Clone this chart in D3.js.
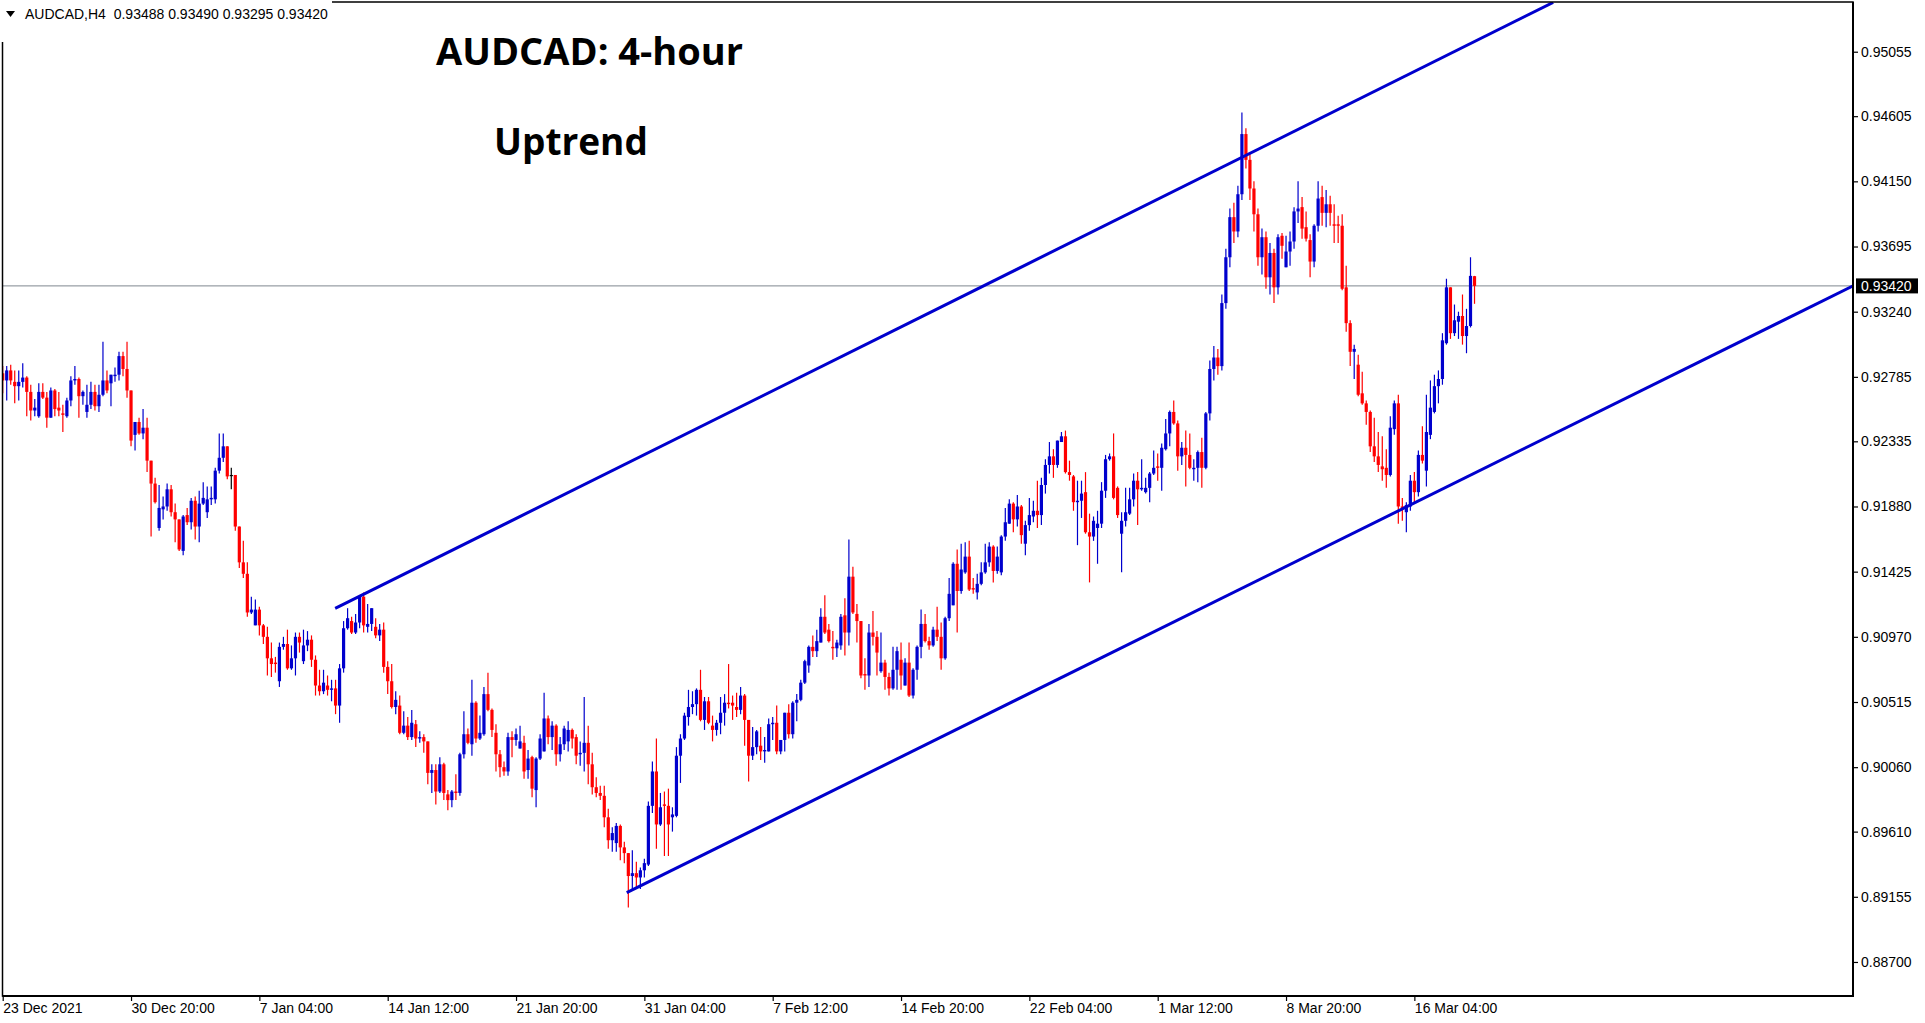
<!DOCTYPE html>
<html>
<head>
<meta charset="utf-8">
<script src="https://cdn.jsdelivr.net/npm/d3@7"></script>
<style>
    html, body { margin: 0; padding: 0; background: #ffffff; }
    svg { display: block; }
</style>
</head>
<body>
<div id="chart"></div>
<script>

// Constants - canvas and plot frame
const width = 1925
const height = 1023
const frame = { left: 2.5, top: 2, right: 1853, bottom: 996 }

// Data - AUDCAD H4 candles (open, high, low, close)
const opens = [
    .9281,.9276,.9283,.9275,.9272,.9275,.9278,.9268,.9255,.9251,
    .9268,.9264,.9250,.9269,.9257,.9253,.9251,.9262,.9276,.9277,
    .9265,.9254,.9259,.9268,.9258,.9266,.9276,.9274,.9279,.9280,
    .9293,.9284,.9269,.9238,.9247,.9239,.9243,.9220,.9204,.9173,
    .9186,.9188,.9200,.9184,.9179,.9157,.9182,.9177,.9192,.9174,
    .9190,.9184,.9193,.9193,.9213,.9222,.9230,.9210,.9210,.9174,
    .9149,.9141,.9114,.9105,.9116,.9105,.9097,.9082,.9079,.9066,
    .9090,.9092,.9075,.9082,.9097,.9080,.9091,.9095,.9081,.9063,
    .9059,.9063,.9060,.9061,.9049,.9075,.9103,.9108,.9100,.9107,
    .9125,.9104,.9106,.9104,.9098,.9102,.9076,.9066,.9048,.9049,
    .9030,.9035,.9027,.9036,.9026,.9027,.9024,.9002,.9004,.8989,
    .9008,.8987,.8983,.8989,.8988,.9015,.9029,.9022,.9051,.9026,
    .9029,.9057,.9046,.9030,.9015,.9006,.9003,.9027,.9025,.9019,
    .9023,.9004,.9013,.8990,.9012,.9017,.9040,.9027,.9035,.9015,
    .9022,.9024,.9032,.9027,.9015,.9016,.9023,.9008,.8992,.8988,
    .8986,.8971,.8955,.8953,.8965,.8950,.8946,.8930,.8932,.8929,
    .8934,.8938,.8979,.9003,.8966,.8980,.8979,.8971,.8972,.9014,
    .9026,.9041,.9048,.9050,.9060,.9039,.9052,.9035,.9032,.9037,
    .9044,.9051,.9051,.9048,.9046,.9056,.9039,.9014,.9020,.9021,
    .9017,.9017,.9036,.9037,.9017,.9025,.9044,.9029,.9051,.9053,
    .9065,.9077,.9090,.9087,.9093,.9111,.9102,.9090,.9089,.9091,
    .9112,.9100,.9139,.9113,.9108,.9071,.9070,.9100,.9097,.9073,
    .9079,.9069,.9061,.9074,.9081,.9063,.9079,.9056,.9074,.9090,
    .9106,.9094,.9091,.9102,.9097,.9082,.9110,.9119,.9148,.9129,
    .9142,.9153,.9131,.9128,.9134,.9142,.9149,.9160,.9143,.9142,
    .9167,.9176,.9190,.9179,.9188,.9162,.9175,.9181,.9185,.9182,
    .9203,.9217,.9223,.9217,.9233,.9237,.9212,.9209,.9191,.9192,
    .9198,.9170,.9167,.9173,.9176,.9199,.9221,.9223,.9201,.9169,
    .9178,.9183,.9193,.9206,.9200,.9198,.9201,.9211,.9216,.9215,
    .9228,.9239,.9254,.9246,.9223,.9229,.9224,.9214,.9215,.9226,
    .9215,.9253,.9284,.9292,.9286,.9330,.9362,.9390,.9380,.9406,
    .9448,.9430,.9410,.9392,.9362,.9376,.9348,.9365,.9341,.9377,
    .9355,.9366,.9373,.9394,.9397,.9383,.9374,.9359,.9384,.9404,
    .9393,.9399,.9385,.9385,.9384,.9341,.9316,.9296,.9287,.9267,
    .9260,.9254,.9230,.9223,.9216,.9215,.9210,.9242,.9260,.9188,
    .9184,.9188,.9206,.9198,.9224,.9213,.9238,.9254,.9272,.9277,
    .9302,.9341,.9309,.9317,.9321,.9307,.9314,.93488
]
const highs = [
    .9286,.9286,.9287,.9283,.9283,.9288,.9279,.9273,.9263,.9274,
    .9274,.9268,.9271,.9270,.9268,.9259,.9264,.9279,.9286,.9278,
    .9269,.9273,.9275,.9273,.9273,.9303,.9283,.9280,.9285,.9296,
    .9296,.9303,.9269,.9247,.9250,.9256,.9250,.9220,.9208,.9203,
    .9195,.9204,.9203,.9190,.9179,.9182,.9187,.9194,.9195,.9199,
    .9205,.9202,.9202,.9215,.9239,.9239,.9230,.9215,.9210,.9174,
    .9164,.9149,.9125,.9123,.9118,.9106,.9104,.9093,.9083,.9093,
    .9097,.9102,.9091,.9100,.9100,.9102,.9101,.9098,.9084,.9074,
    .9074,.9070,.9067,.9067,.9078,.9108,.9117,.9111,.9113,.9126,
    .9128,.9120,.9117,.9110,.9106,.9107,.9080,.9078,.9059,.9056,
    .9045,.9041,.9046,.9039,.9031,.9029,.9024,.9008,.9008,.9013,
    .9009,.8990,.8990,.9001,.9016,.9045,.9033,.9067,.9052,.9042,
    .9062,.9072,.9047,.9036,.9018,.9010,.9030,.9031,.9033,.9035,
    .9028,.9018,.9014,.9013,.9029,.9058,.9042,.9038,.9036,.9027,
    .9035,.9038,.9033,.9029,.9024,.9055,.9035,.9016,.8999,.8993,
    .8993,.8977,.8964,.8967,.8966,.8954,.8946,.8948,.8940,.8936,
    .8942,.8982,.9010,.9026,.8988,.8989,.8991,.8978,.9020,.9029,
    .9044,.9060,.9059,.9061,.9074,.9055,.9055,.9042,.9039,.9055,
    .9057,.9078,.9056,.9058,.9062,.9057,.9039,.9034,.9032,.9034,
    .9027,.9040,.9041,.9049,.9025,.9044,.9050,.9052,.9057,.9067,
    .9081,.9091,.9098,.9102,.9117,.9126,.9106,.9101,.9095,.9113,
    .9124,.9165,.9146,.9120,.9108,.9082,.9106,.9115,.9101,.9100,
    .9081,.9072,.9090,.9090,.9093,.9082,.9093,.9075,.9091,.9116,
    .9113,.9097,.9104,.9118,.9107,.9111,.9138,.9149,.9158,.9162,
    .9163,.9164,.9138,.9141,.9149,.9162,.9163,.9161,.9160,.9168,
    .9187,.9193,.9191,.9196,.9189,.9178,.9194,.9192,.9206,.9208,
    .9221,.9233,.9228,.9234,.9240,.9241,.9220,.9210,.9206,.9206,
    .9212,.9183,.9181,.9185,.9205,.9224,.9225,.9239,.9202,.9184,
    .9201,.9201,.9211,.9212,.9221,.9208,.9212,.9227,.9225,.9232,
    .9249,.9255,.9262,.9248,.9233,.9241,.9239,.9221,.9227,.9236,
    .9254,.9290,.9300,.9298,.9336,.9368,.9396,.9400,.9412,.9463,
    .9452,.9434,.9415,.9396,.9382,.9380,.9372,.9368,.9378,.9379,
    .9377,.9380,.9397,.9415,.9404,.9394,.9378,.9385,.9415,.9412,
    .9409,.9405,.9399,.9391,.9392,.9356,.9318,.9301,.9294,.9282,
    .9262,.9255,.9250,.9240,.9237,.9228,.9251,.9262,.9266,.9194,
    .9191,.9210,.9212,.9227,.9244,.9266,.9276,.9280,.9283,.9309,
    .9347,.9341,.9329,.9324,.9336,.9326,.9362,.93490
]
const lows = [
    .9267,.9262,.9273,.9260,.9262,.9271,.9251,.9248,.9251,.9250,
    .9263,.9243,.9250,.9251,.9251,.9240,.9250,.9258,.9273,.9250,
    .9259,.9250,.9256,.9255,.9254,.9265,.9267,.9258,.9275,.9276,
    .9279,.9264,.9230,.9227,.9238,.9235,.9212,.9167,.9190,.9171,
    .9179,.9185,.9181,.9163,.9157,.9154,.9175,.9172,.9165,.9163,
    .9189,.9180,.9189,.9190,.9211,.9219,.9207,.9200,.9171,.9145,
    .9138,.9111,.9113,.9105,.9098,.9092,.9070,.9069,.9072,.9062,
    .9088,.9074,.9074,.9070,.9086,.9078,.9087,.9076,.9056,.9056,
    .9057,.9056,.9052,.9043,.9037,.9072,.9102,.9099,.9099,.9103,
    .9100,.9100,.9101,.9096,.9094,.9072,.9057,.9047,.9043,.9029,
    .9029,.9025,.9025,.9020,.9023,.9016,.8994,.8988,.8980,.8988,
    .8983,.8976,.8978,.8983,.8986,.9012,.9022,.9014,.9023,.9025,
    .9028,.9045,.9027,.9003,.8999,.9000,.9000,.9013,.9021,.9019,
    .8998,.8998,.8985,.8978,.9011,.9017,.9022,.9018,.9007,.9010,
    .9018,.9017,.9019,.9008,.9007,.9003,.8994,.8987,.8985,.8983,
    .8964,.8949,.8947,.8947,.8941,.8939,.8908,.8921,.8922,.8921,
    .8929,.8937,.8974,.8949,.8965,.8944,.8944,.8961,.8971,.8995,
    .9025,.9035,.9043,.9042,.9038,.9032,.9036,.9024,.9028,.9029,
    .9035,.9047,.9039,.9041,.9043,.9021,.8996,.9011,.9015,.9011,
    .9009,.9017,.9025,.9015,.9015,.9017,.9026,.9026,.9038,.9052,
    .9064,.9072,.9083,.9083,.9093,.9099,.9093,.9081,.9083,.9088,
    .9084,.9091,.9113,.9093,.9068,.9060,.9062,.9091,.9070,.9072,
    .9060,.9056,.9060,.9060,.9060,.9063,.9055,.9054,.9067,.9082,
    .9093,.9088,.9090,.9094,.9074,.9081,.9108,.9119,.9100,.9127,
    .9141,.9129,.9127,.9123,.9133,.9141,.9146,.9135,.9141,.9140,
    .9164,.9176,.9170,.9174,.9162,.9154,.9171,.9177,.9173,.9175,
    .9197,.9211,.9208,.9215,.9233,.9211,.9206,.9185,.9161,.9180,
    .9169,.9135,.9164,.9148,.9173,.9194,.9220,.9193,.9180,.9142,
    .9174,.9182,.9188,.9175,.9199,.9197,.9191,.9210,.9206,.9199,
    .9227,.9230,.9245,.9213,.9217,.9202,.9214,.9206,.9205,.9201,
    .9214,.9248,.9276,.9280,.9283,.9326,.9355,.9372,.9376,.9402,
    .9424,.9402,.9380,.9356,.9350,.9340,.9336,.9330,.9336,.9361,
    .9355,.9356,.9368,.9386,.9375,.9373,.9348,.9355,.9380,.9384,
    .9383,.9384,.9372,.9372,.9339,.9310,.9286,.9277,.9265,.9259,
    .9245,.9226,.9219,.9212,.9206,.9201,.9209,.9238,.9176,.9178,
    .9170,.9185,.9191,.9195,.9218,.9202,.9235,.9253,.9260,.9273,
    .9301,.9305,.9307,.9305,.9301,.9295,.9313,.93295
]
const closes = [
    .9276,.9283,.9276,.9272,.9275,.9278,.9268,.9255,.9257,.9268,
    .9264,.9250,.9269,.9256,.9255,.9252,.9262,.9276,.9277,.9265,
    .9268,.9259,.9268,.9258,.9266,.9276,.9269,.9280,.9280,.9293,
    .9284,.9269,.9234,.9247,.9239,.9243,.9220,.9204,.9191,.9187,
    .9188,.9200,.9184,.9179,.9158,.9181,.9177,.9192,.9174,.9190,
    .9194,.9193,.9194,.9213,.9222,.9230,.9209,.9210,.9174,.9149,
    .9141,.9114,.9116,.9116,.9105,.9097,.9082,.9078,.9078,.9090,
    .9092,.9075,.9082,.9097,.9093,.9091,.9095,.9081,.9063,.9059,
    .9065,.9060,.9061,.9049,.9075,.9103,.9110,.9100,.9107,.9125,
    .9105,.9106,.9117,.9098,.9102,.9076,.9066,.9048,.9053,.9030,
    .9035,.9027,.9037,.9026,.9027,.9024,.9002,.9004,.8989,.9008,
    .8988,.8983,.8989,.8988,.9015,.9029,.9023,.9051,.9026,.9030,
    .9057,.9046,.9032,.9015,.9006,.9003,.9027,.9025,.9029,.9024,
    .9003,.9012,.8991,.9012,.9026,.9040,.9027,.9035,.9015,.9022,
    .9033,.9032,.9026,.9014,.9016,.9023,.9008,.8992,.8988,.8986,
    .8971,.8955,.8960,.8965,.8950,.8946,.8930,.8932,.8929,.8934,
    .8939,.8979,.9003,.8966,.8978,.8979,.8966,.8973,.9014,.9026,
    .9042,.9048,.9050,.9060,.9039,.9052,.9037,.9032,.9037,.9044,
    .9051,.9050,.9049,.9046,.9056,.9039,.9014,.9020,.9031,.9017,
    .9018,.9036,.9037,.9017,.9025,.9044,.9029,.9051,.9053,.9065,
    .9080,.9090,.9087,.9094,.9111,.9100,.9094,.9089,.9093,.9111,
    .9100,.9139,.9114,.9108,.9070,.9070,.9100,.9097,.9086,.9079,
    .9069,.9061,.9074,.9087,.9070,.9079,.9056,.9074,.9090,.9106,
    .9094,.9091,.9102,.9097,.9082,.9110,.9127,.9148,.9129,.9144,
    .9153,.9130,.9130,.9134,.9142,.9149,.9160,.9143,.9153,.9167,
    .9177,.9190,.9179,.9188,.9168,.9175,.9182,.9185,.9182,.9203,
    .9217,.9223,.9217,.9234,.9237,.9212,.9210,.9191,.9192,.9197,
    .9170,.9167,.9178,.9176,.9199,.9221,.9223,.9194,.9182,.9178,
    .9184,.9193,.9206,.9200,.9201,.9201,.9211,.9215,.9215,.9229,
    .9239,.9254,.9246,.9223,.9229,.9224,.9215,.9215,.9226,.9215,
    .9253,.9284,.9292,.9286,.9330,.9362,.9390,.9380,.9406,.9448,
    .9430,.9410,.9392,.9362,.9376,.9348,.9365,.9341,.9376,.9370,
    .9366,.9373,.9394,.9396,.9382,.9375,.9359,.9384,.9403,.9393,
    .9399,.9393,.9384,.9384,.9340,.9316,.9296,.9298,.9266,.9260,
    .9254,.9230,.9223,.9217,.9214,.9210,.9243,.9260,.9188,.9187,
    .9189,.9206,.9198,.9224,.9220,.9240,.9257,.9272,.9277,.9304,
    .9341,.9309,.9318,.9321,.9307,.9314,.9349,.93420
]

// Axis ticks
const priceTicks = [0.95055, 0.94605, 0.94150, 0.93695, 0.93240, 0.92785, 0.92335,
    0.91880, 0.91425, 0.90970, 0.90515, 0.90060, 0.89610, 0.89155, 0.88700]
const timeTickBars = [0, 32, 64, 96, 128, 160, 192, 224, 256, 288, 320, 352]
const timeTickLabels = ['23 Dec 2021', '30 Dec 20:00', '7 Jan 04:00', '14 Jan 12:00',
    '21 Jan 20:00', '31 Jan 04:00', '7 Feb 12:00', '14 Feb 20:00', '22 Feb 04:00',
    '1 Mar 12:00', '8 Mar 20:00', '16 Mar 04:00']

// Channel lines: [bar index, price]
const upperChannel = [[82.9, 0.91168], [386.6, 0.95399]]
const lowerChannel = [[155.6, 0.89184], [461.3, 0.93419]]

const lastPrice = 0.93420
const headerText = 'AUDCAD,H4  0.93488 0.93490 0.93295 0.93420'

const bull = '#0000cd'
const bear = '#ff0000'
const axisFont = '"Liberation Sans", Arial, sans-serif'

const candles = opens.map((o, i) => ({ i, o, h: highs[i], l: lows[i], c: closes[i] }))

// Define the svg
const svg = d3.select('#chart')
    .append('svg')
    .attr('width', width)
    .attr('height', height)

svg.append('rect')
    .attr('width', width)
    .attr('height', height)
    .attr('fill', '#ffffff')

// Scales
const x = d3.scaleLinear()
    .domain([0, 461.3])
    .range([2.7, frame.right - 0.3])

const y = d3.scaleLinear()
    .domain([0.884624, 0.954021])
    .range([frame.bottom, frame.top])

svg.append('clipPath')
    .attr('id', 'plotClip')
    .append('rect')
    .attr('x', frame.left)
    .attr('y', frame.top)
    .attr('width', frame.right - frame.left)
    .attr('height', frame.bottom - frame.top)

const plot = svg.append('g').attr('clip-path', 'url(#plotClip)')

// Current price line
plot.append('line')
    .attr('x1', frame.left)
    .attr('x2', frame.right)
    .attr('y1', y(lastPrice))
    .attr('y2', y(lastPrice))
    .attr('stroke', '#7f878f')
    .attr('stroke-width', 1)

// Candles
const color = d => d.c > d.o ? bull : d.c < d.o ? bear : '#000000'

const candleGroup = plot.append('g')

candleGroup.selectAll('line')
    .data(candles)
    .enter()
    .append('line')
    .attr('x1', d => x(d.i))
    .attr('x2', d => x(d.i))
    .attr('y1', d => y(d.h))
    .attr('y2', d => y(d.l))
    .attr('stroke', color)
    .attr('stroke-width', 1.2)

candleGroup.selectAll('rect')
    .data(candles)
    .enter()
    .append('rect')
    .attr('x', d => x(d.i) - 1.6)
    .attr('width', 3.2)
    .attr('y', d => y(Math.max(d.o, d.c)))
    .attr('height', d => Math.max(1.2, Math.abs(y(d.o) - y(d.c))))
    .attr('fill', color)

// Channel lines
const channel = d3.line()
    .x(d => x(d[0]))
    .y(d => y(d[1]))

plot.selectAll('.channel')
    .data([upperChannel, lowerChannel])
    .enter()
    .append('path')
    .attr('class', 'channel')
    .attr('d', channel)
    .attr('fill', 'none')
    .attr('stroke', bull)
    .attr('stroke-width', 3)

// Frame
svg.append('rect')
    .attr('x', frame.left)
    .attr('y', frame.top)
    .attr('width', frame.right - frame.left)
    .attr('height', frame.bottom - frame.top)
    .attr('fill', 'none')
    .attr('stroke', '#000000')
    .attr('stroke-width', 1.5)

svg.append('path')
    .attr('d', `M${frame.right},${frame.top}V${frame.bottom}H${frame.left}`)
    .attr('fill', 'none')
    .attr('stroke', '#000000')
    .attr('stroke-width', 2)

// Price axis
const yAxis = d3.axisRight(y)
    .tickValues(priceTicks)
    .tickFormat(d3.format('.5f'))
    .tickSizeInner(5)
    .tickSizeOuter(0)
    .tickPadding(3)

const yAxisGroup = svg.append('g')
    .attr('transform', `translate(${frame.right}, 0)`)
    .call(yAxis)
yAxisGroup.select('.domain').remove()
yAxisGroup.selectAll('line').attr('stroke', '#000000').attr('stroke-width', 1.2)
yAxisGroup.selectAll('text')
    .style('font-family', axisFont)
    .style('font-size', '14px')
    .attr('fill', '#000000')

// Last price tag
const tag = svg.append('g')
    .attr('transform', `translate(${frame.right + 3}, ${y(lastPrice)})`)
tag.append('rect')
    .attr('x', 0)
    .attr('y', -7.5)
    .attr('width', 62)
    .attr('height', 15)
    .attr('fill', '#000000')
tag.append('text')
    .attr('x', 5)
    .attr('y', 5)
    .attr('fill', '#ffffff')
    .style('font-family', axisFont)
    .style('font-size', '14px')
    .text(d3.format('.5f')(lastPrice))

// Time axis
const xAxis = d3.axisBottom(x)
    .tickValues(timeTickBars)
    .tickFormat((d, i) => timeTickLabels[i])
    .tickSizeInner(5)
    .tickSizeOuter(0)
    .tickPadding(2)

const xAxisGroup = svg.append('g')
    .attr('transform', `translate(0, ${frame.bottom})`)
    .call(xAxis)
xAxisGroup.select('.domain').remove()
xAxisGroup.selectAll('line').attr('stroke', '#000000').attr('stroke-width', 1.2)
xAxisGroup.selectAll('text')
    .attr('text-anchor', 'start')
    .attr('x', 0)
    .style('font-family', axisFont)
    .style('font-size', '14px')
    .attr('fill', '#000000')

// Header label (covers the frame corner like the terminal does)
svg.append('rect')
    .attr('x', 0)
    .attr('y', 0)
    .attr('width', 332)
    .attr('height', 42)
    .attr('fill', '#ffffff')

svg.append('path')
    .attr('d', 'M6,11H15L10.5,17Z')
    .attr('fill', '#000000')

svg.append('text')
    .attr('x', 25)
    .attr('y', 19)
    .attr('xml:space', 'preserve')
    .style('white-space', 'pre')
    .style('font-family', axisFont)
    .style('font-size', '14px')
    .attr('fill', '#000000')
    .text(headerText)

// Titles
const titleFont = '"Open Sans", "Noto Sans", sans-serif'
svg.append('text')
    .attr('x', 436)
    .attr('y', 65)
    .style('font-family', titleFont)
    .style('font-weight', 700)
    .style('font-size', '38px')
    .attr('fill', '#000000')
    .text('AUDCAD: 4-hour')

svg.append('text')
    .attr('x', 494)
    .attr('y', 155)
    .style('font-family', titleFont)
    .style('font-weight', 700)
    .style('font-size', '37px')
    .attr('fill', '#000000')
    .text('Uptrend')

</script>
</body>
</html>
